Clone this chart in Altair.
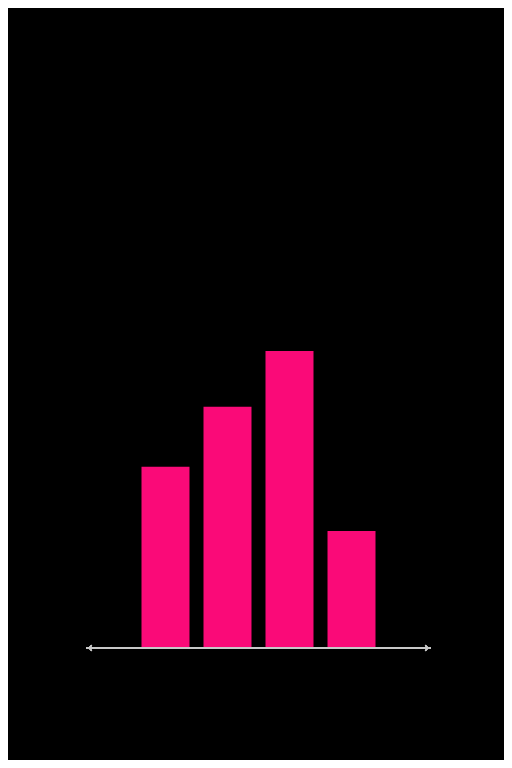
import altair as alt
import pandas as pd

categories = ["A", "B", "C", "D"]
values = [30.5, 40.6, 50.0, 19.7]

bar_color = "#FA0A78"
axis_color = "#C8C8C8"

df = pd.DataFrame({"category": categories, "value": values})

W, H = 345, 640

xscale = alt.Scale(domain=categories, paddingInner=0.226, paddingOuter=0.895)
yscale = alt.Scale(domain=[0, 107.7], nice=False, zero=True)

bars = alt.Chart(df).mark_bar(color=bar_color, opacity=1).encode(
    x=alt.X("category:N", scale=xscale, axis=None, sort=categories),
    y=alt.Y("value:Q", scale=yscale, axis=None),
)

axis_line = alt.Chart(df).mark_rule(color=axis_color, strokeWidth=1.3).encode(
    x=alt.value(0), x2=alt.value(W), y=alt.value(H)
)

left_head = alt.Chart(df).mark_point(
    shape="M1,-1L0,0L1,1", filled=False, color=axis_color, strokeWidth=1.3, size=30, opacity=1
).encode(x=alt.value(3), y=alt.value(H))

right_head = alt.Chart(df).mark_point(
    shape="M-1,-1L0,0L-1,1", filled=False, color=axis_color, strokeWidth=1.3, size=30, opacity=1
).encode(x=alt.value(W - 3), y=alt.value(H))

chart = (
    alt.layer(bars, axis_line, left_head, right_head)
    .properties(
        width=W,
        height=H,
        autosize=alt.AutoSizeParams(type="none"),
        padding={"left": 78, "top": 0, "right": 73, "bottom": 112},
        background="black",
    )
    .configure_view(stroke=None, fill="black")
)

chart.save("out.html", embed_options={"renderer": "svg", "actions": False})
